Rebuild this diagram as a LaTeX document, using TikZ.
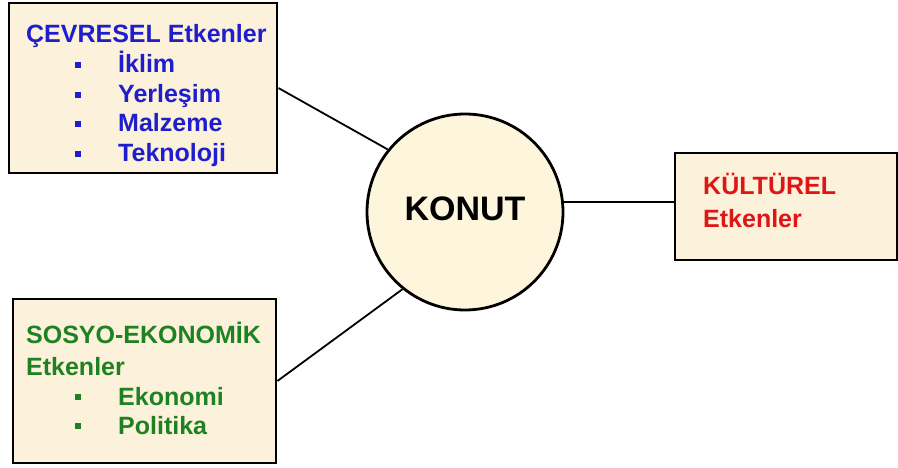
\documentclass[tikz,border=0pt]{standalone}
\usepackage{fontspec}
\setmainfont{Liberation Sans}
\definecolor{cream}{HTML}{FCF1DA}
\definecolor{creamc}{HTML}{FEF6DC}
\definecolor{tblue}{RGB}{30,30,205}
\definecolor{tgreen}{RGB}{30,130,35}
\definecolor{tred}{RGB}{222,22,22}
\tikzset{
  factorbox/.style={draw=black, line width=2.8pt, fill=cream, rectangle, inner sep=0pt},
  hub/.style={draw=black, line width=2.8pt, fill=creamc, circle, inner sep=0pt, minimum size=196pt},
  txt/.style={anchor=base west, inner sep=0pt, font=\fontsize{25}{30}\selectfont\bfseries},
  bigtxt/.style={anchor=base, inner sep=0pt, font=\fontsize{34}{40}\selectfont\bfseries},
  bul/.style={rectangle, inner sep=0pt, minimum size=6.5pt},
  link/.style={draw=black, line width=1.8pt}
}
\begin{document}
\begin{tikzpicture}[x=1pt,y=-1pt]
\useasboundingbox (0,0) rectangle (898,468);
% boxes
\node[factorbox, minimum width=268pt, minimum height=170pt] (tl) at (143,88) {};
\node[factorbox, minimum width=263pt, minimum height=164pt] (bl) at (144.5,381) {};
\node[factorbox, minimum width=222pt, minimum height=107pt] (kr) at (786,206.5) {};
\node[hub] (k) at (465,212) {};
% connectors
\draw[link] (tl.east) -- (k.141);
\draw[link] (bl.east) -- (k.231);
\draw[link] (k.6) -- (k.6 -| kr.west);
% hub text
\node[bigtxt] (kt) at (465,221) {KONUT};
% top-left text
\node[txt, text=tblue] (t0) at (26,43) {ÇEVRESEL Etkenler};
\node[txt, text=tblue] (t1) at (118,73) {İklim};
\node[txt, text=tblue] (t2) at (118,103) {Yerleşim};
\node[txt, text=tblue] (t3) at (118,132) {Malzeme};
\node[txt, text=tblue] (t4) at (118,162) {Teknoloji};
\node[bul, fill=tblue] (b1) at (78,65) {};
\node[bul, fill=tblue] (b2) at (78,95) {};
\node[bul, fill=tblue] (b3) at (78,124) {};
\node[bul, fill=tblue] (b4) at (78,154) {};
% bottom-left text
\node[txt, text=tgreen] (s0) at (26,343) {SOSYO-EKONOMİK};
\node[txt, text=tgreen] (s1) at (26,375) {Etkenler};
\node[txt, text=tgreen] (s2) at (118,405) {Ekonomi};
\node[txt, text=tgreen] (s3) at (118,434) {Politika};
\node[bul, fill=tgreen] (c2) at (78,397) {};
\node[bul, fill=tgreen] (c3) at (78,426) {};
% right text
\node[txt, text=tred] (r0) at (703,195) {KÜLTÜREL};
\node[txt, text=tred] (r1) at (703,228) {Etkenler};
\end{tikzpicture}
\end{document}
